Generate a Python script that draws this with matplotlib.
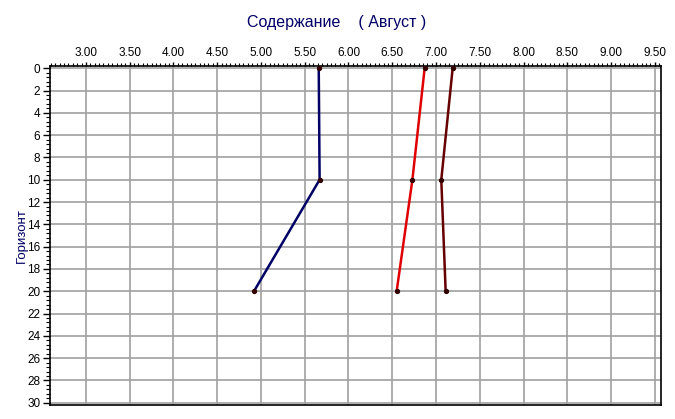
import matplotlib
matplotlib.use("Agg")
import matplotlib.pyplot as plt
from matplotlib.ticker import MultipleLocator, FormatStrFormatter

depth = [0, 10, 20]
series_blue = [5.66, 5.67, 4.92]
series_red = [6.87, 6.73, 6.55]
series_darkred = [7.19, 7.06, 7.11]
title = "Содержание    ( Август )"
ylabel = "Горизонт"

plt.rcParams['font.family'] = ['Liberation Sans', 'DejaVu Sans']

fig = plt.figure(figsize=(6.75, 4.19), dpi=100)
ax = fig.add_axes([50/675, 1-405/419, (661-50)/675, (405-66)/419])

for vals, col in [(series_blue, '#000066'), (series_red, '#e00000'), (series_darkred, '#660000')]:
    ax.plot(vals, depth, color=col, lw=1.8, zorder=3)
    ax.plot(vals, depth, 'o', color='#330000', ms=2.8, zorder=4)

ax.set_xlim(2.59, 9.57)
ax.set_ylim(30.2, -0.2)
ax.xaxis.set_major_locator(MultipleLocator(0.5))
ax.xaxis.set_minor_locator(MultipleLocator(0.05))
ax.xaxis.set_major_formatter(FormatStrFormatter('%.2f'))
ax.yaxis.set_major_locator(MultipleLocator(2))
ax.yaxis.set_minor_locator(MultipleLocator(0.4))
ax.xaxis.tick_top()
ax.tick_params(axis='x', which='major', labelsize=8.5, length=3, width=1, direction='out', pad=2)
ax.tick_params(axis='x', which='minor', length=2.5, width=0.8, direction='out')
ax.tick_params(axis='y', which='major', labelsize=8.5, length=5, width=1, direction='out', pad=2)
ax.tick_params(axis='y', which='minor', length=3, width=0.8, direction='out')
ax.grid(True, which='major', color='#a0a0a0', lw=1.2)
for s in ax.spines.values():
    s.set_linewidth(1.2)
ax.set_xticks([x/2 for x in range(6, 20)])
ax.set_ylabel(ylabel, color='#000066', fontsize=9.5)
ax.yaxis.set_label_coords(-0.036, 0.5)
fig.text(337/675, 1-22/419, title, color='#000066', fontsize=11.5, ha='center', va='center')

fig.savefig('out.png', dpi=100)
